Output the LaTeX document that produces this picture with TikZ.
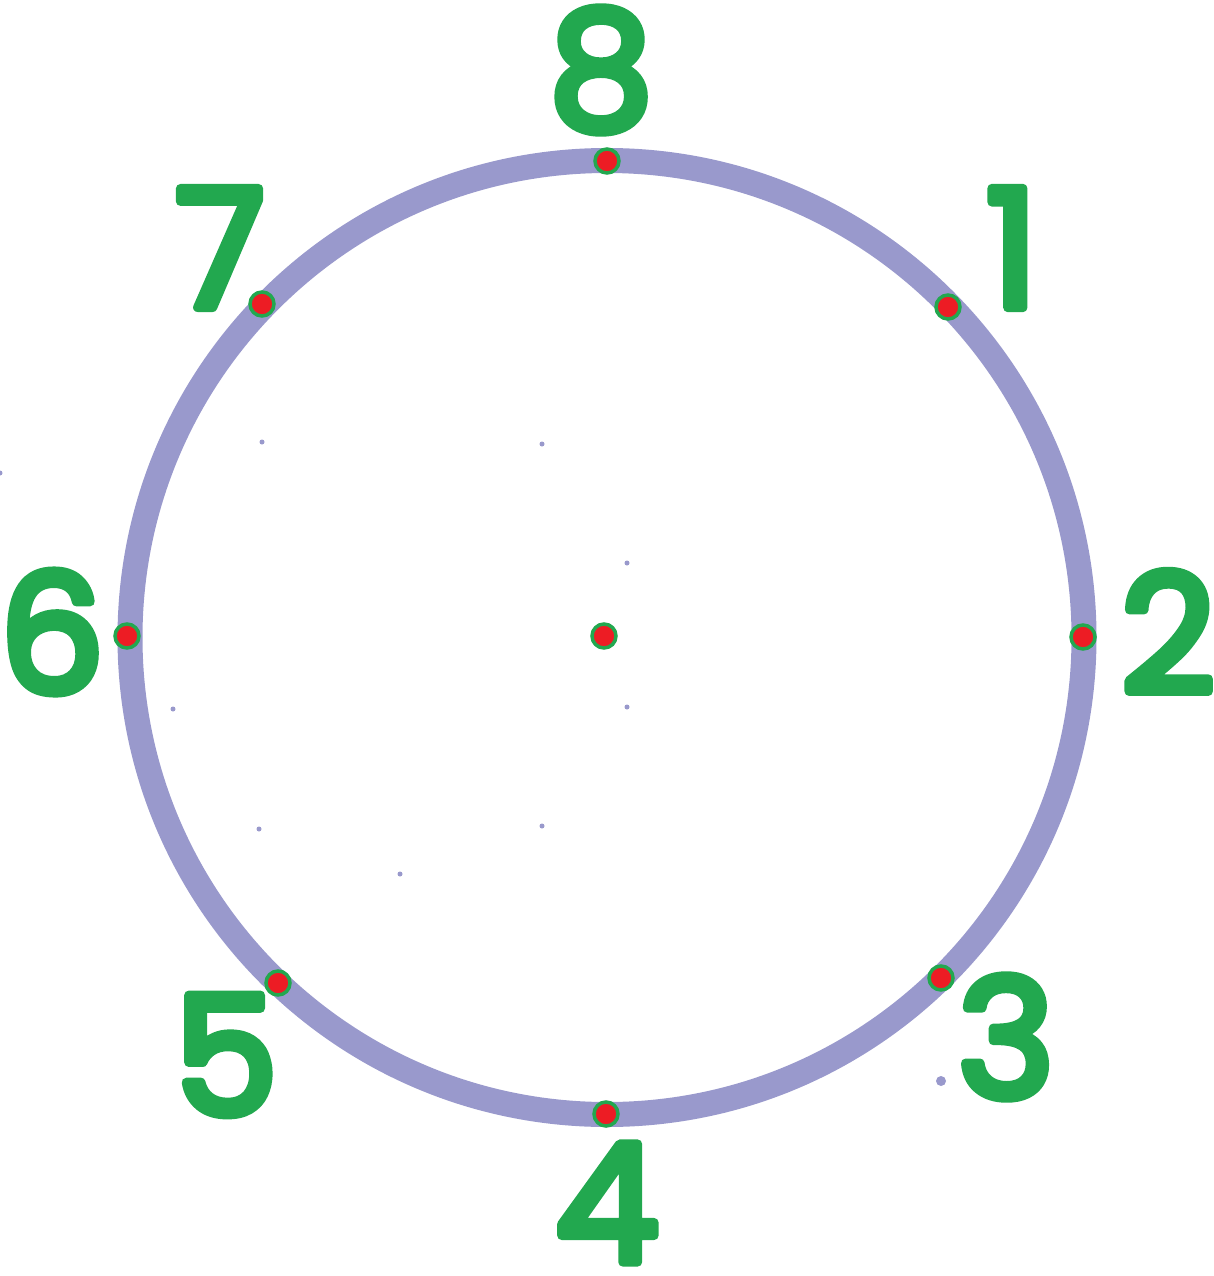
\documentclass[tikz,border=0pt]{standalone}
\usepackage{fontspec}
\setmainfont{Poppins}
\definecolor{ring}{HTML}{9999CC}
\definecolor{numgreen}{HTML}{22A84F}
\definecolor{dotred}{HTML}{ED1C24}
\newcommand\roundtxt[1]{\special{pdf:literal 1 j 1 J 9 w 2 Tr}#1\special{pdf:literal 0 Tr}}
\tikzset{
  num/.style={text=numgreen, inner sep=0pt, font=\fontsize{165}{165}\selectfont},
  pin/.style={circle, fill=dotred, draw=numgreen, line width=3.5pt, minimum size=24pt, inner sep=0pt},
  speck/.style={circle, fill=ring, inner sep=0pt, minimum size=5pt}
}
\begin{document}
\begin{tikzpicture}[x=1pt,y=-1pt]
\useasboundingbox (0,0) rectangle (1214,1276);
\coordinate (c) at (607,637.5);
\draw[ring, line width=25pt] (c) circle (477);
% specks
\node[speck] (s1) at (262,442) {};
\node[speck] (s2) at (542,444) {};
\node[speck] (s3) at (627,563) {};
\node[speck] (s4) at (627,707) {};
\node[speck] (s5) at (173,709) {};
\node[speck] (s6) at (259,829) {};
\node[speck] (s7) at (542,826) {};
\node[speck] (s8) at (400,874) {};
\node[speck, minimum size=10pt] (s9) at (941,1081) {};
\node[speck] (s10) at (0,473) {};
% pins
\node[pin] (p8) at (607,161) {};
\node[pin] (p1) at (948,307) {};
\node[pin] (p2) at (1083,637) {};
\node[pin] (p3) at (941,978) {};
\node[pin] (p4) at (606,1114) {};
\node[pin] (p5) at (278,983) {};
\node[pin] (p6) at (127,636) {};
\node[pin] (p7) at (262,304) {};
\node[pin] (p0) at (604,636) {};
% numbers
\node[num] (n8) at (601,70) {\roundtxt{8}};
\node[num] (n7) at (220,248) {\roundtxt{7}};
\node[num] (n1) at (1012,248) {\roundtxt{1}};
\node[num] (n2) at (1168,632) {\roundtxt{2}};
\node[num] (n6) at (52,632) {\roundtxt{6}};
\node[num] (n5) at (226,1055) {\roundtxt{5}};
\node[num] (n3) at (1006,1037) {\roundtxt{3}};
\node[num] (n4) at (607,1203) {\roundtxt{4}};
\end{tikzpicture}
\end{document}
